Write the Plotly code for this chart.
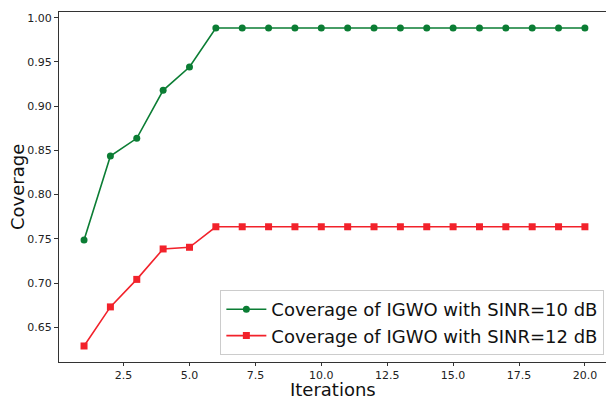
import plotly.graph_objects as go

iterations = list(range(1, 21))
cov_sinr10 = [0.7485, 0.8436, 0.8636, 0.9179, 0.9442] + [0.9883] * 15
cov_sinr12 = [0.6288, 0.6730, 0.7041, 0.7385, 0.7404] + [0.7636] * 15
x_ticks = [2.5, 5.0, 7.5, 10.0, 12.5, 15.0, 17.5, 20.0]
y_ticks = [0.65, 0.70, 0.75, 0.80, 0.85, 0.90, 0.95, 1.00]

fig = go.Figure()
fig.add_trace(go.Scatter(
    x=iterations, y=cov_sinr10, mode="lines+markers",
    name="Coverage of IGWO with SINR=10 dB",
    line=dict(color="#0b7d34", width=1.6),
    marker=dict(symbol="circle", size=7, color="#0b7d34"),
))
fig.add_trace(go.Scatter(
    x=iterations, y=cov_sinr12, mode="lines+markers",
    name="Coverage of IGWO with SINR=12 dB",
    line=dict(color="#f2222b", width=1.6),
    marker=dict(symbol="square", size=7, color="#f2222b"),
))

fig.update_layout(
    width=606, height=401,
    margin=dict(l=59, r=0, t=12, b=39, autoexpand=False),
    paper_bgcolor="white", plot_bgcolor="white",
    font=dict(family="DejaVu Sans", color="#222"),
    showlegend=True,
    legend=dict(
        x=0.997, y=0.02, xanchor="right", yanchor="bottom",
        bgcolor="rgba(255,255,255,0.8)", bordercolor="#cccccc", borderwidth=1,
        font=dict(size=18, family="DejaVu Sans", color="#111"),
        itemwidth=40, tracegroupgap=0,
    ),
    annotations=[
        dict(text="Iterations", xref="paper", yref="paper", x=0.5, y=0,
             xanchor="center", yanchor="bottom", yshift=-39, height=20,
             valign="middle", showarrow=False,
             font=dict(size=18, color="#111")),
        dict(text="Coverage", xref="paper", yref="paper", x=0, y=0.5,
             xanchor="center", yanchor="middle", xshift=-42, textangle=-90,
             showarrow=False, font=dict(size=18, color="#111")),
    ],
)
fig.update_xaxes(
    range=[0.05, 20.8], tickvals=x_ticks, ticktext=[f"{v:.1f}" for v in x_ticks],
    showgrid=False, zeroline=False, showline=True, linecolor="#333", linewidth=1.2,
    mirror=True, ticks="outside", ticklen=3, tickcolor="#333",
    tickfont=dict(size=11), automargin=False,
)
fig.update_yaxes(
    range=[0.6107, 1.0064], tickvals=y_ticks, ticktext=[f"{v:.2f}" for v in y_ticks],
    showgrid=False, zeroline=False, showline=True, linecolor="#333", linewidth=1.2,
    mirror=False, ticks="outside", ticklen=4, tickcolor="#333",
    tickfont=dict(size=11), automargin=False,
)

fig.write_html(
    "out.html",
    config={"displayModeBar": False},
    post_script="document.body.style.margin='0';document.body.style.overflow='hidden';",
)
